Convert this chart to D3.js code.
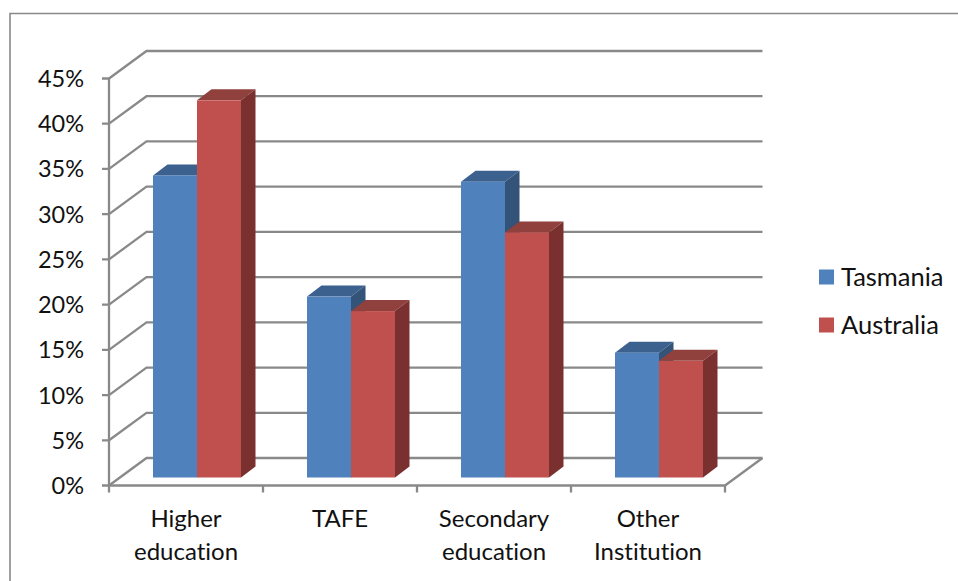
<!DOCTYPE html>
<html>
<head>
<meta charset="utf-8">
<script src="https://cdn.jsdelivr.net/npm/d3@7/dist/d3.min.js"></script>
<style>
html, body { margin: 0; padding: 0; background: #fff; }
svg { display: block; }
text { font-family: Lato, "Open Sans", sans-serif; fill: #111; font-variant-ligatures: none; }
</style>
</head>
<body>
<script>
const categories = [["Higher", "education"], ["TAFE"], ["Secondary", "education"], ["Other", "Institution"]];
const seriesNames = ["Tasmania", "Australia"];
const tasmania = [33.4, 20.0, 32.7, 13.8];
const australia = [41.7, 18.4, 27.1, 12.9];
const yTicks = [0, 5, 10, 15, 20, 25, 30, 35, 40, 45];
const frontColors = ["#4f81bd", "#c0504d"];
const topColors = ["#3c618e", "#90403d"];
const sideColors = ["#335379", "#7a302e"];
const axisColor = "#898989";

const width = 958, height = 581;
const svg = d3.select("body").append("svg").attr("width", width).attr("height", height);

// Plot box: front floor edge and the offset to the back wall
const x = d3.scaleBand().domain(d3.range(categories.length)).range([109, 725]);
const y = d3.scaleLinear().domain([0, 45]).range([485.5, 78.5]);
const wallDx = 37.5, wallDy = -27.5;

// Bars stand inset on the floor, with their own shallower depth
const barShiftX = 11, barShiftY = -8, barDx = 14.5, barDy = -11;
const barX = d3.scaleBand().domain([0, 1]).range([0, x.bandwidth()]).paddingInner(0).paddingOuter(0.75);

// Chart frame: only the top and left edges are visible
svg.append("path")
  .attr("d", d3.line()([[10, 581], [10, 13.5], [958, 13.5]]))
  .attr("fill", "none").attr("stroke", axisColor).attr("stroke-width", 1.6);

const grid = svg.append("g").attr("fill", "none").attr("stroke", axisColor).attr("stroke-width", 2.3);
const [x0, x1] = x.range();

// Back wall and side wall lines for each value tick
yTicks.forEach(t => {
  grid.append("path").attr("d", d3.line()([
    [x0 - 7, y(t)], [x0, y(t)], [x0 + wallDx, y(t) + wallDy], [x1 + wallDx, y(t) + wallDy]
  ]));
});

// Floor edge on the right and the two axes
grid.append("path").attr("d", d3.line()([[x1 + wallDx, y(0) + wallDy], [x1, y(0)], [x0, y(0)]]));
grid.append("path").attr("d", d3.line()([[x0, y(45)], [x0, y(0)]]));
x.domain().concat(categories.length).forEach(i => {
  const px = i < categories.length ? x(i) : x1;
  grid.append("path").attr("d", d3.line()([[px, y(0)], [px, y(0) + 7]]));
});

// 3D columns: top and side faces, then the front
const barData = categories.flatMap((c, i) => [
  { cat: i, s: 0, v: tasmania[i] },
  { cat: i, s: 1, v: australia[i] }
]);
const bars = svg.append("g");
barData.forEach(d => {
  const l = x(d.cat) + barX(d.s) + barShiftX, r = l + barX.bandwidth();
  const b = y(0) + barShiftY, t = y(d.v) + barShiftY;
  const g = bars.append("g");
  g.append("path").attr("fill", topColors[d.s]).attr("d", d3.line()([
    [l, t], [l + barDx, t + barDy], [r + barDx, t + barDy], [r, t]
  ]) + "Z");
  g.append("path").attr("fill", sideColors[d.s]).attr("d", d3.line()([
    [r, t], [r + barDx, t + barDy], [r + barDx, b + barDy], [r, b]
  ]) + "Z");
  g.append("rect").attr("x", l).attr("y", t).attr("width", r - l).attr("height", b - t)
    .attr("fill", frontColors[d.s]);
});

// Value axis labels
svg.append("g").selectAll("text").data(yTicks).join("text")
  .attr("x", 84).attr("y", d => y(d)).attr("dy", "0.36em")
  .attr("text-anchor", "end").attr("font-size", 23.5)
  .text(d => d + "%");

// Category labels, up to two lines each
categories.forEach((lines, i) => {
  const t = svg.append("text").attr("text-anchor", "middle").attr("font-size", 24);
  lines.forEach((s, j) => {
    t.append("tspan").attr("x", x(i) + x.bandwidth() / 2).attr("y", 527 + j * 33).text(s);
  });
});

// Legend
const legend = svg.append("g");
seriesNames.forEach((name, i) => {
  const ly = 277 + i * 48;
  legend.append("rect").attr("x", 819).attr("y", ly - 7.5).attr("width", 15).attr("height", 15)
    .attr("fill", frontColors[i]);
  legend.append("text").attr("x", 841).attr("y", ly).attr("dy", "0.36em").attr("font-size", 25.5).text(name);
});
</script>
</body>
</html>
